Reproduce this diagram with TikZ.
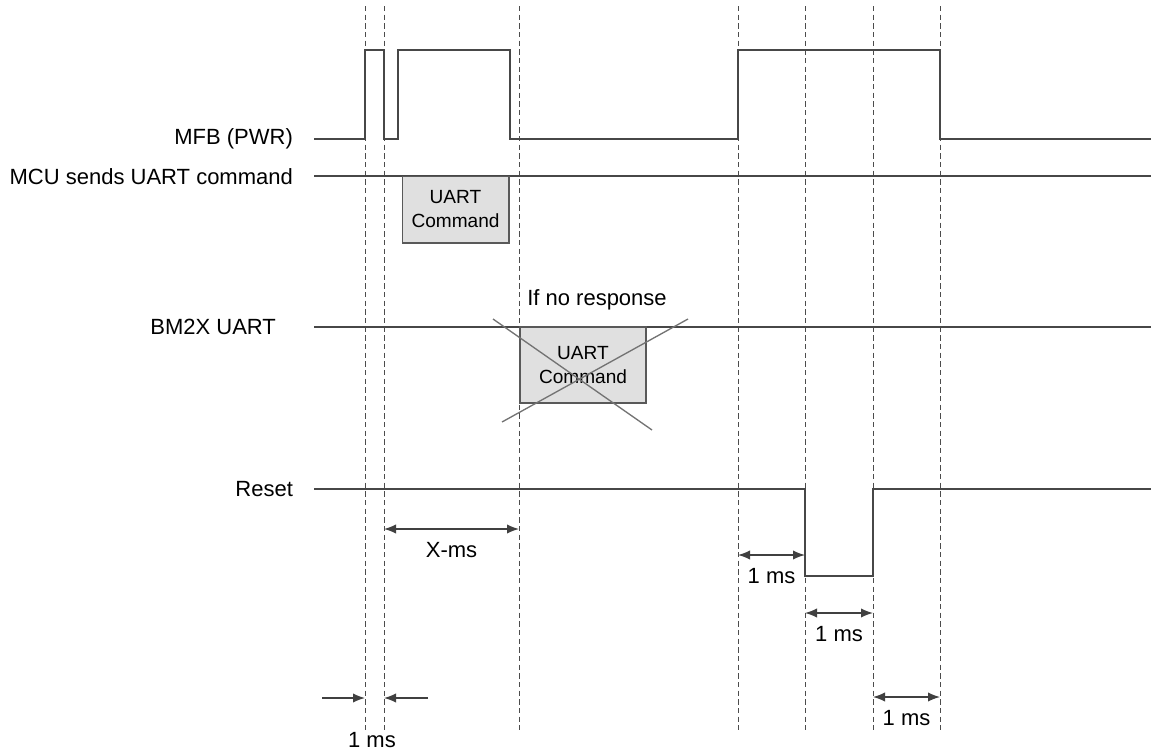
\documentclass[tikz,border=0pt]{standalone}
\usepackage{fontspec}
\setmainfont{Liberation Sans}
\usetikzlibrary{arrows.meta}

\begin{document}
\begin{tikzpicture}[x=0.75pt, y=-0.75pt, line width=1pt,
	font=\fontsize{16.5}{19}\selectfont,
	wave/.style={draw=black!72},
	guide/.style={draw=black!70, line width=0.6pt, dash pattern=on 4pt off 2.5pt},
	cmdbox/.style={draw=black!65, fill=black!12, minimum width=80pt, minimum height=50pt,
		align=center, inner sep=0pt, font=\fontsize{14.3}{18}\selectfont},
	span/.style={draw=black!75, {Latex[length=9pt,width=7pt]}-{Latex[length=9pt,width=7pt]}},
	onetip/.style={draw=black!75, -{Latex[length=9pt,width=7pt]}}]

	\useasboundingbox (0,0) rectangle (1151,750);

	% gestrichelte Zeitmarken
	\foreach \t/\x in {a/365, b/384, c/519, d/738, e/805, f/873, g/940} {
		\coordinate (top\t) at (\x,6);
		\coordinate (bot\t) at (\x,730);
		\draw[guide] (top\t) -- (bot\t);
	}

	% Signalnamen
	\node[anchor=east] (mfb) at (298,139) {MFB (PWR)};
	\node[anchor=east] (mcu) at (298,177) {MCU sends UART command};
	\node[anchor=east] (bm) at (281,327) {BM2X UART};
	\node[anchor=east] (rst) at (298,489) {Reset};

	% MFB (PWR)
	\draw[wave] (314,139) -| (365,50) -| (384,139) -| (398,50) -| (510,139) -| (738,50) -| (940,139) -- (1151,139);

	% MCU sendet Kommando
	\draw[wave] (314,176) -- (1151,176);
	\node[cmdbox] (cmd1) at (455.5,209.5) {UART\\Command};

	% BM2X UART (keine Antwort)
	\draw[wave] (314,327) -- (1151,327);
	\node[cmdbox, minimum width=94.5pt, minimum height=57pt] (cmd2) at (583,365) {UART\\Command};
	\draw[black!55] (493,319) -- (652,430);
	\draw[black!55] (502,422) -- (688,319);
	\node (nores) at (597,300) {If no response};

	% Reset
	\draw[wave] (314,489) -| (805,576) -| (873,489) -- (1151,489);

	% Zeitabstaende
	\draw[span] (topb |- 0,529) -- (topc |- 0,529) node[midway, below=6pt] (xms) {X-ms};
	\draw[span] (topd |- 0,555) -- (tope |- 0,555) node[midway, below=6pt] (t1) {1 ms};
	\draw[span] (tope |- 0,613) -- (topf |- 0,613) node[midway, below=6pt] (t2) {1 ms};
	\draw[span] (topf |- 0,697) -- (topg |- 0,697) node[midway, below=6pt] (t3) {1 ms};
	\coordinate (la) at (322,698);
	\coordinate (lb) at (428,698);
	\draw[onetip] (la) -- (topa |- la);
	\draw[onetip] (lb) -- (topb |- lb);
	\node (t0) at (372,740) {1 ms};
\end{tikzpicture}
\end{document}
